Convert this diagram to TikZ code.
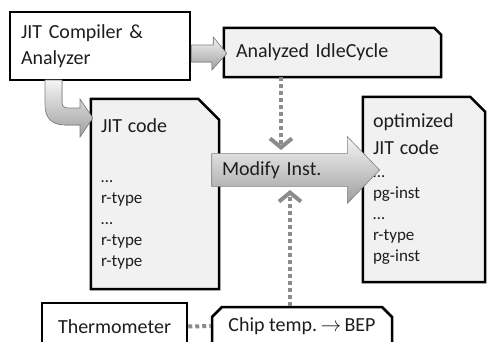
\documentclass[tikz,border=0pt]{standalone}
\usepackage{fontspec}
\setmainfont{Carlito}
\usetikzlibrary{arrows.meta,calc,backgrounds}
\usetikzlibrary{shapes.misc, shapes.arrows}

\definecolor{docgray}{RGB}{241,241,241}
\definecolor{dotgray}{RGB}{140,140,140}
\definecolor{ink}{RGB}{30,30,30}

% page with one cut corner, drawn behind a node
\newcommand\docpage[2]{\filldraw[docline] (#1.north west) -- ($(#1.north east)+(-#2,0)$) -- ($(#1.north east)+(0,#2)$) -- (#1.south east) -- (#1.south west) -- cycle;}

\begin{document}
\begin{tikzpicture}[x=1pt,y=-1pt,font=\fontsize{20}{26}\selectfont,text=ink]
  \tikzset{box/.style={draw=black,line width=2.5pt,fill=white,inner sep=0pt},
    doc/.style={inner sep=0pt,align=left},
    docline/.style={draw=black,line width=2.5pt,fill=docgray},
    small/.style={font=\fontsize{17}{21}\selectfont},
    dotline/.style={draw=dotgray,line width=4pt,dash pattern=on 4pt off 3pt},
    blockarrow/.style={draw=black!50,line width=0.6pt,top color=black!4,bottom color=black!38}}
  \useasboundingbox (0,0) rectangle (488,341);
  \clip (0,0) rectangle (488,341);

  \node[box, minimum width=180pt, minimum height=68pt, align=left, text width=158pt] (comp) at (100,46) {JIT Compiler \&\\Analyzer};
  \node[doc, minimum width=217pt, minimum height=49pt, text width=193pt] (idle) at (332.5,52.5) {Analyzed IdleCycle};
  \node[doc, minimum width=128pt, minimum height=190pt, text width=108pt, small] (code) at (155,194)
    {{\fontsize{20}{24}\selectfont JIT code}\\[29pt]…\\r-type\\…\\r-type\\r-type};
  \node[doc, minimum width=122pt, minimum height=185pt, text width=102pt, small] (opt) at (424,189.5)
    {{\fontsize{20}{24}\selectfont optimized}\\[6pt]{\fontsize{20}{24}\selectfont JIT code}\\[2pt]…\\pg-inst\\…\\r-type\\pg-inst};
  \begin{scope}[on background layer]
    \fill[white] (0,0) rectangle (488,341);
    \docpage{idle}{7}
    \docpage{code}{21}
    \docpage{opt}{15}
  \end{scope}
  \node[single arrow, blockarrow, single arrow head extend=17pt, single arrow tip angle=92, inner xsep=10pt, inner ysep=7.5pt, align=left, text width=131.5pt] (modify) at (287.75,170) {Modify Inst.};

  \node[box, minimum width=145pt, minimum height=47pt] (thermo) at (114.5,326.5) {Thermometer};
  \node[box, chamfered rectangle, chamfered rectangle corners={north west,north east}, chamfered rectangle xsep=5pt, chamfered rectangle ysep=5pt, minimum width=180pt, minimum height=38pt] (chip) at (302,326) {Chip temp.\,$\rightarrow$\,BEP};

  % block arrows
  \filldraw[blockarrow] ($(comp.east)+(0,-1)$) -- ++(22,0) -- ++(0,-8) -- ($(idle.west)+(3,1)$) -- ++(-15,16.5) -- ++(0,-8) -- ($(comp.east)+(0,16)$) -- cycle;
  \filldraw[blockarrow] (45,80) -- (45,105) .. controls (45,118) and (52,125) .. (65,125) -- (80,125) -- (80,137) -- ($(code.west)+(2,-76)$) -- (80,99) -- (80,108) -- (68,108) .. controls (64,108) and (62,106) .. (62,102) -- (62,80) -- cycle;

  % dotted links
  \coordinate (top) at (281,150);
  \coordinate (bot) at (290,190);
  \draw[dotline, -{Straight Barb[length=9pt,width=22pt]}] (idle.south -| top) -- (top);
  \draw[dotline, -{Straight Barb[length=9pt,width=22pt]}] (chip.north -| bot) -- (bot);
  \draw[dotline] (thermo.east) -- (chip.west);
\end{tikzpicture}
\end{document}
